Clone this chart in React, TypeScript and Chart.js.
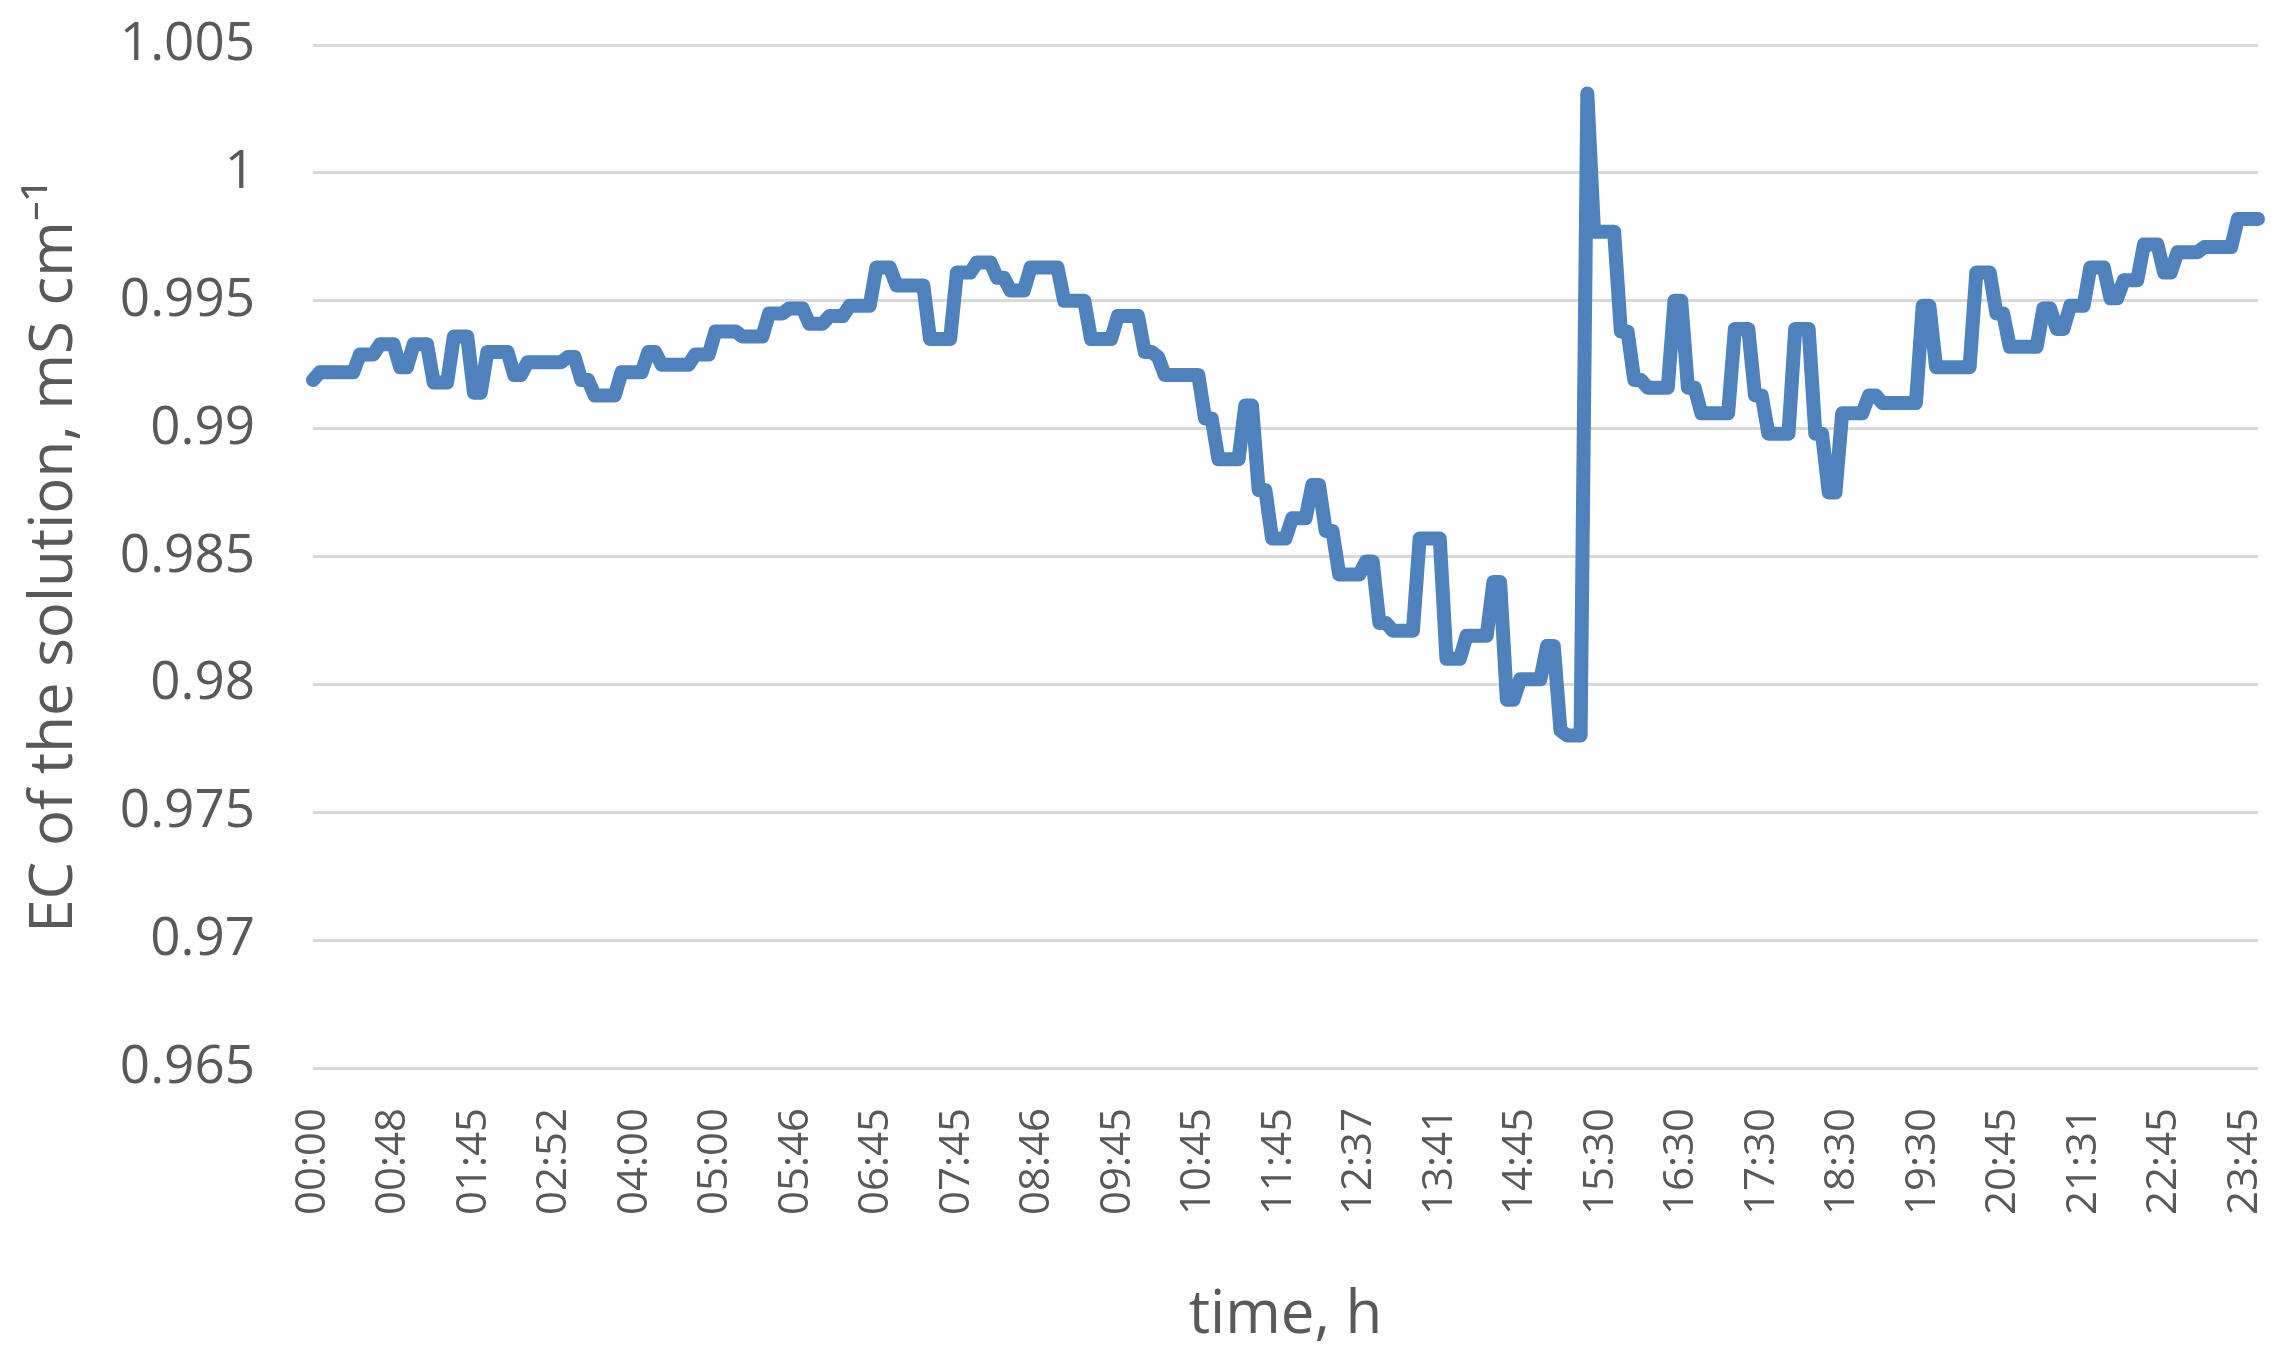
import React, { useEffect, useRef } from "react";
import { Chart, registerables } from "chart.js";

Chart.register(...registerables);

// X-axis tick labels (one every 12 samples)
const tickLabels = [
  "00:00", "00:48", "01:45", "02:52", "04:00", "05:00", "05:46", "06:45",
  "07:45", "08:46", "09:45", "10:45", "11:45", "12:37", "13:41", "14:45",
  "15:30", "16:30", "17:30", "18:30", "19:30", "20:45", "21:31", "22:45", "23:45",
];
const labelEvery = 12;

// EC of the solution, mS cm-1
const ecValues = [
  0.9919, 0.9922, 0.9922, 0.9922, 0.9922, 0.9922, 0.9922, 0.9929, 0.9929, 0.9929,
  0.9933, 0.9933, 0.9933, 0.9924, 0.9924, 0.9933, 0.9933, 0.9933, 0.9918, 0.9918,
  0.9918, 0.9936, 0.9936, 0.9936, 0.9914, 0.9914, 0.9930, 0.9930, 0.9930, 0.9930,
  0.9921, 0.9921, 0.9926, 0.9926, 0.9926, 0.9926, 0.9926, 0.9926, 0.9928, 0.9928,
  0.9919, 0.9919, 0.9913, 0.9913, 0.9913, 0.9913, 0.9922, 0.9922, 0.9922, 0.9922,
  0.9930, 0.9930, 0.9925, 0.9925, 0.9925, 0.9925, 0.9925, 0.9929, 0.9929, 0.9929,
  0.9938, 0.9938, 0.9938, 0.9938, 0.9936, 0.9936, 0.9936, 0.9936, 0.9945, 0.9945,
  0.9945, 0.9947, 0.9947, 0.9947, 0.9941, 0.9941, 0.9941, 0.9944, 0.9944, 0.9944,
  0.9948, 0.9948, 0.9948, 0.9948, 0.9963, 0.9963, 0.9963, 0.9956, 0.9956, 0.9956,
  0.9956, 0.9956, 0.9935, 0.9935, 0.9935, 0.9935, 0.9961, 0.9961, 0.9961, 0.9965,
  0.9965, 0.9965, 0.9959, 0.9959, 0.9954, 0.9954, 0.9954, 0.9963, 0.9963, 0.9963,
  0.9963, 0.9963, 0.9950, 0.9950, 0.9950, 0.9950, 0.9935, 0.9935, 0.9935, 0.9935,
  0.9944, 0.9944, 0.9944, 0.9944, 0.9930, 0.9930, 0.9928, 0.9921, 0.9921, 0.9921,
  0.9921, 0.9921, 0.9921, 0.9904, 0.9904, 0.9888, 0.9888, 0.9888, 0.9888, 0.9909,
  0.9909, 0.9876, 0.9876, 0.9857, 0.9857, 0.9857, 0.9865, 0.9865, 0.9865, 0.9878,
  0.9878, 0.9860, 0.9860, 0.9843, 0.9843, 0.9843, 0.9843, 0.9848, 0.9848, 0.9824,
  0.9824, 0.9821, 0.9821, 0.9821, 0.9821, 0.9857, 0.9857, 0.9857, 0.9857, 0.9810,
  0.9810, 0.9810, 0.9819, 0.9819, 0.9819, 0.9819, 0.9840, 0.9840, 0.9794, 0.9794,
  0.9802, 0.9802, 0.9802, 0.9802, 0.9815, 0.9815, 0.9782, 0.9780, 0.9780, 0.9780,
  1.0031, 0.9977, 0.9977, 0.9977, 0.9977, 0.9938, 0.9938, 0.9919, 0.9919, 0.9916,
  0.9916, 0.9916, 0.9916, 0.9950, 0.9950, 0.9916, 0.9916, 0.9906, 0.9906, 0.9906,
  0.9906, 0.9906, 0.9939, 0.9939, 0.9939, 0.9913, 0.9913, 0.9898, 0.9898, 0.9898,
  0.9898, 0.9939, 0.9939, 0.9939, 0.9898, 0.9898, 0.9875, 0.9875, 0.9906, 0.9906,
  0.9906, 0.9906, 0.9913, 0.9913, 0.9910, 0.9910, 0.9910, 0.9910, 0.9910, 0.9910,
  0.9948, 0.9948, 0.9924, 0.9924, 0.9924, 0.9924, 0.9924, 0.9924, 0.9961, 0.9961,
  0.9961, 0.9945, 0.9945, 0.9932, 0.9932, 0.9932, 0.9932, 0.9932, 0.9947, 0.9947,
  0.9939, 0.9939, 0.9948, 0.9948, 0.9948, 0.9963, 0.9963, 0.9963, 0.9951, 0.9951,
  0.9958, 0.9958, 0.9958, 0.9972, 0.9972, 0.9972, 0.9961, 0.9961, 0.9969, 0.9969,
  0.9969, 0.9969, 0.9971, 0.9971, 0.9971, 0.9971, 0.9971, 0.9982, 0.9982, 0.9982,
  0.9982,
];

const yMin = 0.965;
const yMax = 1.005;
const yStep = 0.005;

const xTitle = "time, h";
const yTitle = "EC of the solution, mS cm\u207B\u00B9";

const FONT = "'Open Sans', 'Noto Sans', sans-serif";
const TEXT = "#595959";

export default function App() {
  const ref = useRef<HTMLCanvasElement | null>(null);

  useEffect(() => {
    const canvas = ref.current;
    if (!canvas) return;
    const labels = ecValues.map((_, i) =>
      i % labelEvery === 0 && tickLabels[i / labelEvery] !== undefined ? tickLabels[i / labelEvery] : ""
    );
    const chart = new Chart(canvas, {
      type: "line",
      data: {
        labels,
        datasets: [
          {
            data: ecValues,
            borderColor: "#4F81BD",
            backgroundColor: "#4F81BD",
            borderWidth: 14,
            pointRadius: 0,
            tension: 0,
            fill: false,
            borderJoinStyle: "round",
            borderCapStyle: "round",
          },
        ],
      },
      options: {
        responsive: false,
        animation: false,
        devicePixelRatio: 1,
        layout: { padding: { top: 45, right: 23, left: 0, bottom: 0 } },
        plugins: {
          legend: { display: false },
          tooltip: { enabled: false },
        },
        scales: {
          x: {
            type: "category",
            offset: false,
            grid: { display: false, drawTicks: false },
            border: { display: false },
            ticks: {
              autoSkip: false,
              minRotation: 90,
              maxRotation: 90,
              padding: 40,
              color: TEXT,
              font: { family: FONT, size: 42 },
            },
            title: {
              display: true,
              text: xTitle,
              color: TEXT,
              font: { family: FONT, size: 60 },
              padding: { top: 0, bottom: 12 },
            },
            afterFit: (scale: any) => {
              scale.height = 296;
              scale.paddingLeft = 0;
              scale.paddingRight = 0;
            },
          },
          y: {
            min: yMin,
            max: yMax,
            grid: { color: "#D9D9D9", lineWidth: 3, drawTicks: false },
            border: { display: false },
            ticks: {
              stepSize: yStep,
              padding: 58,
              color: TEXT,
              font: { family: FONT, size: 53 },
              callback: (v: any) => parseFloat(Number(v).toFixed(3)).toString(),
            },
            title: {
              display: true,
              text: yTitle,
              color: TEXT,
              font: { family: FONT, size: 60 },
              padding: { top: 19, bottom: 0 },
            },
            afterFit: (scale: any) => {
              scale.width = 313;
              scale.paddingTop = 0;
              scale.paddingBottom = 0;
            },
          },
        },
      },
    });
    return () => chart.destroy();
  }, []);

  return (
    <div style={{ position: "absolute", left: 0, top: 0, width: 2281, height: 1364, background: "#fff" }}>
      <canvas ref={ref} width={2281} height={1364} style={{ display: "block", width: 2281, height: 1364 }} />
    </div>
  );
}
